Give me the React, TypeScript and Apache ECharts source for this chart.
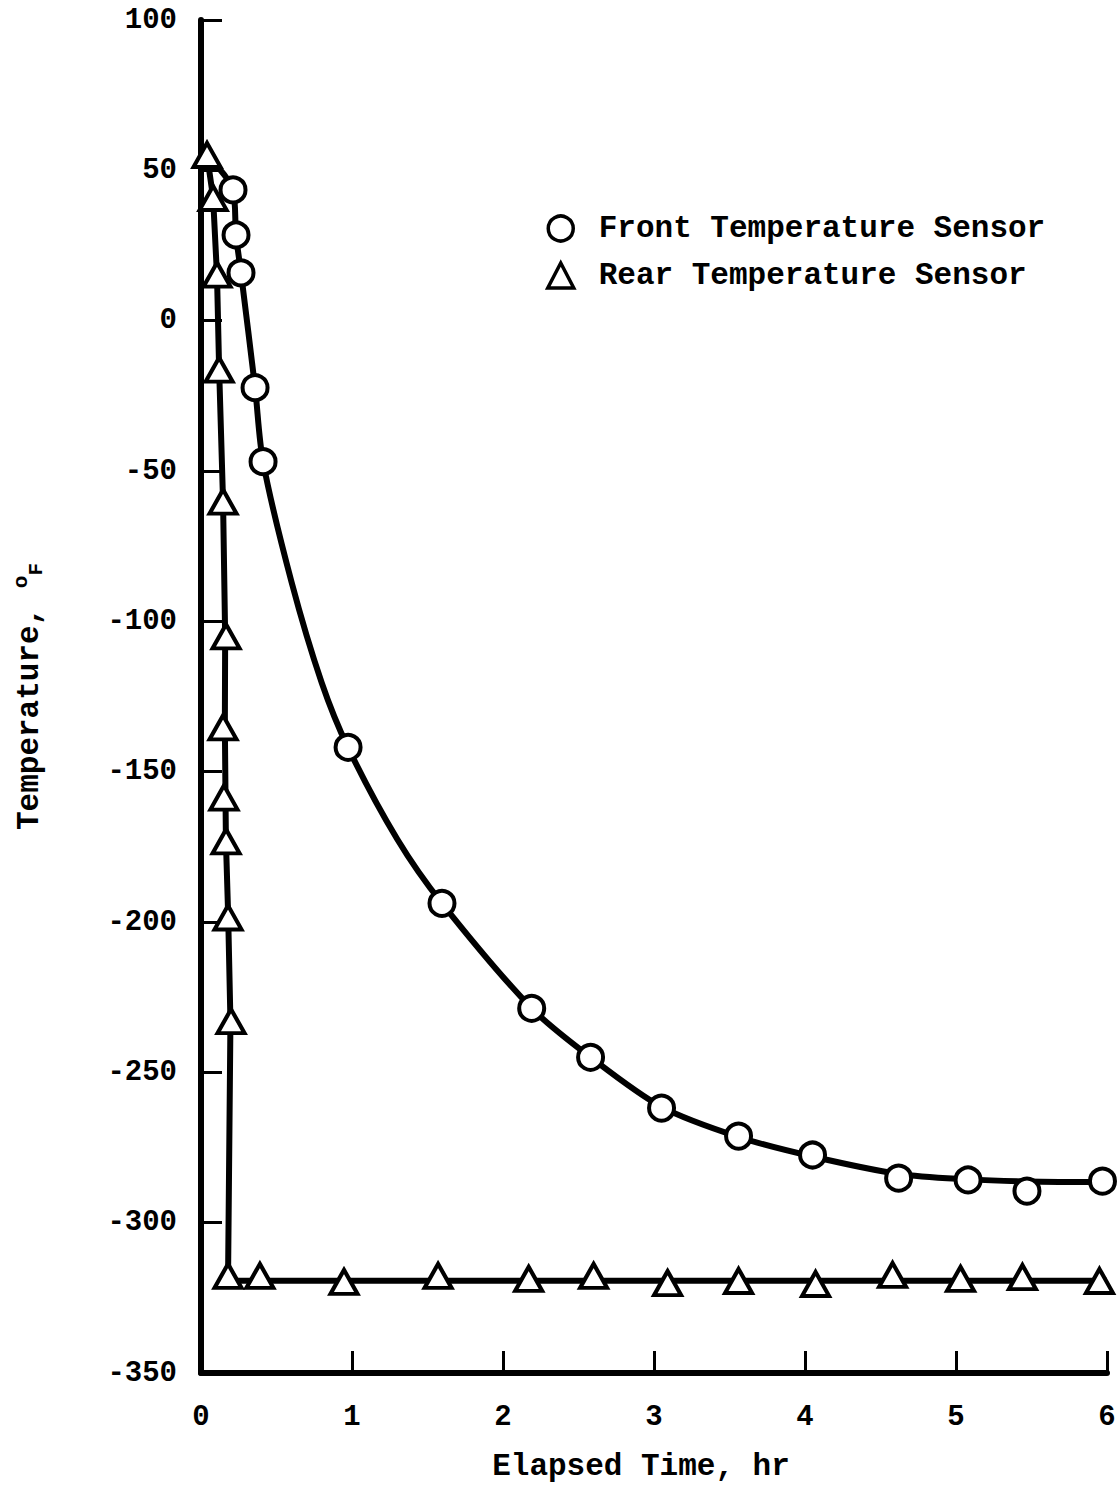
import React, { useEffect, useRef } from "react";
import * as echarts from "echarts";

// Elapsed time (hr), temperature (°F)
const frontTimes = [0.212, 0.232, 0.265, 0.358, 0.411, 0.974, 1.596, 2.19, 2.58, 3.05, 3.56, 4.05, 4.62, 5.08, 5.47, 5.97];
const frontTemps = [43.5, 28.5, 15.9, -22.3, -46.9, -141.9, -193.8, -228.7, -245, -261.9, -271.2, -277.5, -285.2, -285.8, -289.5, -286.2];

const rearTimes = [0.04, 0.08, 0.106, 0.12, 0.146, 0.166, 0.146, 0.152, 0.166, 0.179, 0.199, 0.179, 0.39, 0.947, 1.57, 2.17, 2.6, 3.09, 3.56, 4.07, 4.58, 5.03, 5.44, 5.95];
const rearTemps = [55.1, 40.8, 15.3, -16.3, -60.2, -105, -135.3, -158.6, -173.2, -198.5, -233, -317.7, -317.7, -319.7, -317.7, -318.7, -317.7, -320.1, -319.4, -320.4, -317.4, -318.7, -318.1, -319.4];

// Faired curves as drawn on the plot
const frontCurveTimes = [0.04, 0.212, 0.232, 0.265, 0.358, 0.411, 0.6, 0.8, 0.974, 1.3, 1.596, 2.19, 2.58, 3.05, 3.56, 4.05, 4.62, 5.08, 5.47, 6.0];
const frontCurveTemps = [55, 43.5, 28.5, 15.9, -22.3, -46.9, -87, -120.5, -142, -172.5, -193.8, -228.7, -245, -261.5, -271.5, -278, -283.8, -285.6, -286.3, -286.5];

const rearCurveTimes = [0.04, 0.08, 0.106, 0.12, 0.146, 0.16, 0.158, 0.165, 0.18, 0.195, 0.179, 6.0];
const rearCurveTemps = [55, 41, 15, -16, -60, -105, -135, -173, -198, -233, -319.3, -319.3];

const xTicks = [0, 1, 2, 3, 4, 5, 6];
const yTicks = [100, 50, 0, -50, -100, -150, -200, -250, -300, -350];

const frontName = "Front Temperature Sensor";
const rearName = "Rear Temperature Sensor";
const xTitle = "Elapsed Time, hr";

const zip = (a: number[], b: number[]) => a.map((v, i) => [v, b[i]]);

const FONT = "'Liberation Mono', 'DejaVu Sans Mono', monospace";

export default function App() {
  const ref = useRef<HTMLDivElement>(null);
  useEffect(() => {
    if (!ref.current) return;
    const chart = echarts.init(ref.current, null, { renderer: "svg" });
    const axisText = { fontFamily: FONT, fontSize: 29, fontWeight: "bold", color: "#000" };
    const titleText = { ...axisText, fontSize: 31 };
    chart.setOption({
      animation: false,
      backgroundColor: "#fff",
      grid: { left: 201, right: 13, top: 20, bottom: 113, containLabel: false },
      legend: {
        orient: "vertical",
        left: 541,
        top: 208,
        itemWidth: 26,
        itemHeight: 25,
        itemGap: 16,
        selectedMode: false,
        itemStyle: { color: "#fff", borderColor: "#000", borderWidth: 3.5 },
        textStyle: { ...axisText, fontSize: 31, padding: [0, 0, 0, 20] },
        data: [
          { name: frontName, icon: "circle" },
          { name: rearName, icon: "triangle" },
        ],
      },
      xAxis: {
        type: "value",
        min: xTicks[0],
        max: xTicks[xTicks.length - 1],
        interval: 1,
        name: xTitle,
        nameLocation: "middle",
        nameGap: 78,
        nameTextStyle: { ...titleText, padding: [0, 26, 0, 0] },
        axisLine: { show: true, onZero: false, lineStyle: { color: "#000", width: 6 } },
        axisTick: { show: true, inside: true, length: 22, lineStyle: { color: "#000", width: 3 } },
        axisLabel: { ...axisText, margin: 30 },
        splitLine: { show: false },
      },
      yAxis: {
        type: "value",
        min: yTicks[yTicks.length - 1],
        max: yTicks[0],
        interval: 50,
        name: "{t|Temperature, }{o|o}{f|F}",
        nameLocation: "middle",
        nameRotate: 90,
        nameGap: 154,
        nameTextStyle: {
          ...titleText,
          rich: {
            t: { ...titleText, lineHeight: 36 },
            o: { ...titleText, fontSize: 21, verticalAlign: "top", lineHeight: 20 },
            f: { ...titleText, fontSize: 21, verticalAlign: "bottom", lineHeight: 20 },
          },
        },
        axisLine: { show: true, onZero: false, lineStyle: { color: "#000", width: 6 } },
        axisTick: { show: true, inside: true, length: 21, lineStyle: { color: "#000", width: 3 } },
        axisLabel: { ...axisText, margin: 24 },
        splitLine: { show: false },
      },
      series: [
        {
          name: "frontCurve",
          type: "line",
          data: zip(frontCurveTimes, frontCurveTemps),
          smooth: 0.3,
          showSymbol: false,
          symbol: "none",
          lineStyle: { color: "#000", width: 6 },
          z: 2,
          silent: true,
        },
        {
          name: "rearCurve",
          type: "line",
          data: zip(rearCurveTimes, rearCurveTemps),
          smooth: false,
          showSymbol: false,
          symbol: "none",
          lineStyle: { color: "#000", width: 6 },
          z: 2,
          silent: true,
        },
        {
          name: frontName,
          type: "scatter",
          data: zip(frontTimes, frontTemps),
          symbol: "circle",
          symbolSize: 25,
          itemStyle: { color: "#fff", borderColor: "#000", borderWidth: 4, opacity: 1 },
          z: 3,
        },
        {
          name: rearName,
          type: "scatter",
          data: zip(rearTimes, rearTemps),
          symbol: "triangle",
          symbolSize: [27, 24],
          itemStyle: { color: "#fff", borderColor: "#000", borderWidth: 4, opacity: 1 },
          z: 4,
        },
      ],
    });
    return () => chart.dispose();
  }, []);
  return (
    <div
      ref={ref}
      style={{ position: "fixed", left: 0, top: 0, width: 1120, height: 1487, background: "#fff" }}
    />
  );
}
